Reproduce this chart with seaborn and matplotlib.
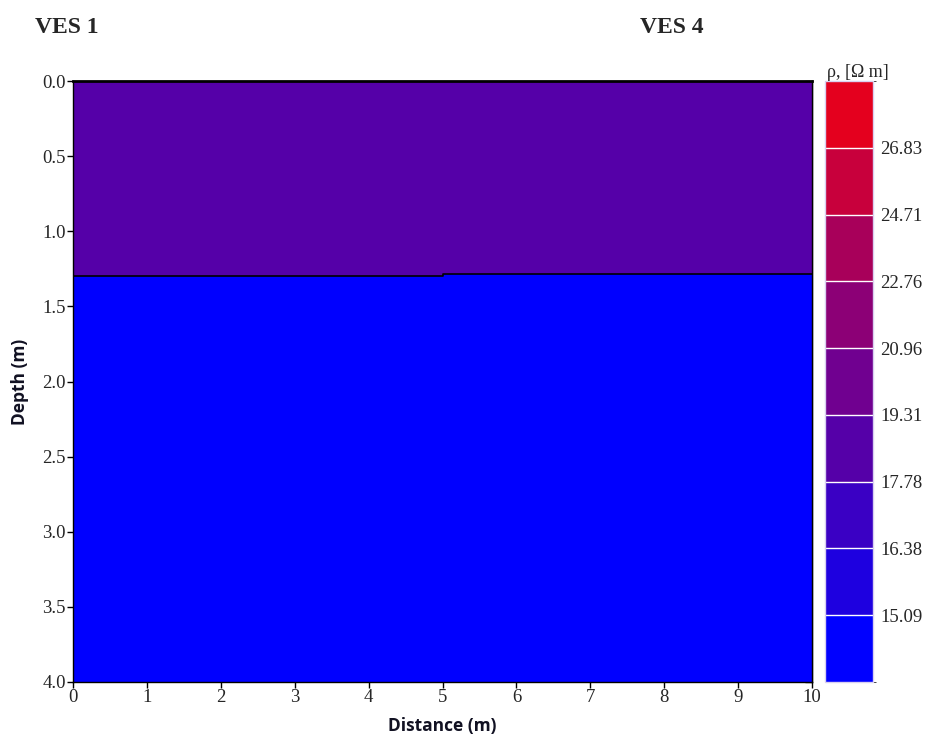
import numpy as np
import seaborn as sns
import matplotlib
matplotlib.use("Agg")
import matplotlib.pyplot as plt
from matplotlib.colors import ListedColormap, BoundaryNorm

# layer model between VES 1 (x=0) and VES 4 (x=10)
x_edges = [0, 5, 5, 10]
interface_depth = [1.30, 1.30, 1.285, 1.285]
max_depth = 4.0
rho_layer1 = 18.5
rho_layer2 = 14.5

# colour scale levels (Ohm m)
levels = [13.9, 15.09, 16.38, 17.78, 19.31, 20.96, 22.76, 24.71, 26.83, 29.0]
level_labels = ["15.09", "16.38", "17.78", "19.31", "20.96", "22.76", "24.71", "26.83"]
level_colors = ["#0000ff", "#1e00e0", "#3a00c4", "#5500a8", "#700090",
                "#8c0076", "#a8005a", "#c8003c", "#e4001e"]

sns.set_style("ticks")
plt.rcParams["font.family"] = ["Liberation Serif", "DejaVu Serif"]

cmap = ListedColormap(sns.color_palette(level_colors))
norm = BoundaryNorm(levels, cmap.N)

fig = plt.figure(figsize=(9.27, 7.4), dpi=100)
ax = fig.add_axes([0.0787, 0.0784, 0.7973, 0.8121])
cax = fig.add_axes([0.890, 0.0784, 0.052, 0.8121])

X = np.array([x_edges] * 3, dtype=float)
Y = np.array([[0.0] * 4, interface_depth, [max_depth] * 4])
C = np.array([[rho_layer1] * 3, [rho_layer2] * 3])
mesh = ax.pcolormesh(X, Y, C, cmap=cmap, norm=norm, shading="flat")

sns.lineplot(x=x_edges, y=interface_depth, sort=False, estimator=None,
             color="black", linewidth=1.2, ax=ax)

yticks = np.arange(0, 4.01, 0.5)
ax.set_xlim(0, 10)
ax.set_ylim(max_depth, 0)
ax.set_xticks(range(0, 11))
ax.set_yticks(yticks)
ax.set_yticklabels([f"{v:.1f}" for v in yticks])
ax.tick_params(axis="both", labelsize=13.5, length=4, width=1, color="black",
               direction="out", pad=1)
for s in ["left", "bottom", "right"]:
    ax.spines[s].set_linewidth(1.0)
    ax.spines[s].set_color("black")
ax.spines["top"].set_linewidth(2.0)
ax.spines["top"].set_color("black")

# inward ticks on the right edge
sec = ax.secondary_yaxis("right")
sec.set_yticks(yticks)
sec.tick_params(direction="in", length=5, width=1, labelright=False)
sec.spines["right"].set_linewidth(1.0)

lab_font = dict(family=["Open Sans", "DejaVu Sans"], weight="bold",
                size=12.5, color="#111122")
ax.set_xlabel("Distance (m)", labelpad=8, **lab_font)
ax.set_ylabel("Depth (m)", labelpad=10, **lab_font)

cb = fig.colorbar(mesh, cax=cax, ticks=levels[1:-1], drawedges=True,
                  spacing="uniform")
cb.dividers.set_color("white")
cb.dividers.set_linewidth(1.0)
cb.outline.set_edgecolor("#d8d0f0")
cb.outline.set_linewidth(1.0)
cb.ax.set_yticklabels(level_labels)
cb.ax.tick_params(labelsize=13.5, length=0, pad=5)
cax.text(0.05, 1.0, "ρ, [Ω m]", transform=cax.transAxes, fontsize=13,
         ha="left", va="bottom")

fig.text(0.038, 0.963, "VES 1", fontsize=17, weight="bold", ha="left", va="center")
fig.text(0.690, 0.963, "VES 4", fontsize=17, weight="bold", ha="left", va="center")

fig.savefig("out.png", dpi=100)
